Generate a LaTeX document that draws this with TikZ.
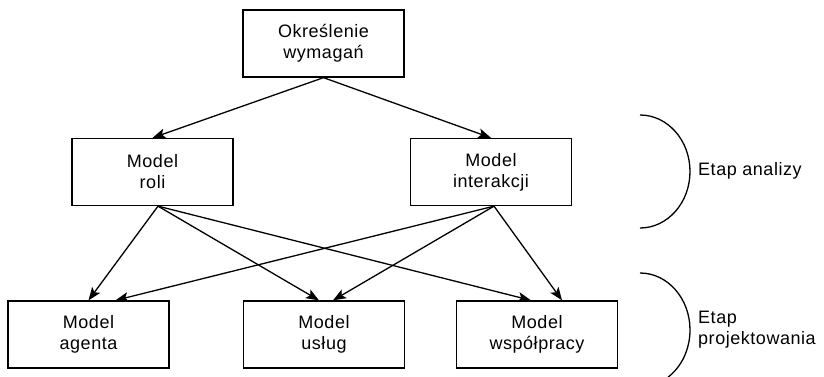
\documentclass[tikz,border=0pt]{standalone}
\usepackage{fontspec}
\setmainfont{Liberation Sans}[LetterSpace=3]
\usetikzlibrary{arrows.meta,calc}
\begin{document}
\begin{tikzpicture}[x=1pt,y=-1pt,
  box/.style={draw,line width=1.3pt,minimum width=161pt,minimum height=67pt,
    align=center,inner sep=0pt,font=\fontsize{18}{21}\selectfont},
  lbl/.style={align=left,anchor=west,inner sep=0pt,font=\fontsize{18}{21}\selectfont},
  conn/.style={line width=1.3pt,-{Stealth[length=13pt,width=10pt,inset=3pt]}},
  brace/.style={line width=1.3pt}]
  \useasboundingbox (0,0) rectangle (824,377);

  % boxes
  \node[box] (req) at (323.5,43.5) {Określenie\\wymagań};
  \node[box] (role) at (152.5,172) {Model\\roli};
  \node[box] (inter) at (491,172) {Model\\interakcji};
  \node[box] (agent) at (88.5,334.5) {Model\\agenta};
  \node[box] (serv) at (324,334.5) {Model\\usług};
  \node[box] (coop) at (537,334.5) {Model\\współpracy};

  % connector end points on the box edges
  \coordinate (roleS) at ($(role.south)+(5.5,0)$);
  \coordinate (interS) at ($(inter.south)+(3,0)$);
  \coordinate (agentA) at ($(agent.north)+(0,0)$);
  \coordinate (agentB) at ($(agent.north)+(27,0)$);
  \coordinate (servA) at ($(serv.north)+(-5,0)$);
  \coordinate (servB) at ($(serv.north)+(9,0)$);
  \coordinate (coopA) at ($(coop.north)+(-6,0)$);
  \coordinate (coopB) at ($(coop.north)+(25,0)$);

  % arrows
  \draw[conn] (req.south) -- (role.north);
  \draw[conn] (req.south) -- (inter.north);
  \draw[conn] (roleS) -- (agentA);
  \draw[conn] (roleS) -- (servA);
  \draw[conn] (roleS) -- (coopA);
  \draw[conn] (interS) -- (agentB);
  \draw[conn] (interS) -- (servB);
  \draw[conn] (interS) -- (coopB);

  % stage brackets
  \coordinate (b1) at (640,115);
  \coordinate (b2) at (640,273);
  \draw[brace] (b1) arc[start angle=90,end angle=-90,x radius=50pt,y radius=56.5pt];
  \draw[brace] (b2) arc[start angle=90,end angle=-56,x radius=50pt,y radius=57pt];
  \node[lbl] (an) at (698,171) {Etap analizy};
  \node[lbl] (pr) at (698,330) {Etap\\projektowania};
\end{tikzpicture}
\end{document}
